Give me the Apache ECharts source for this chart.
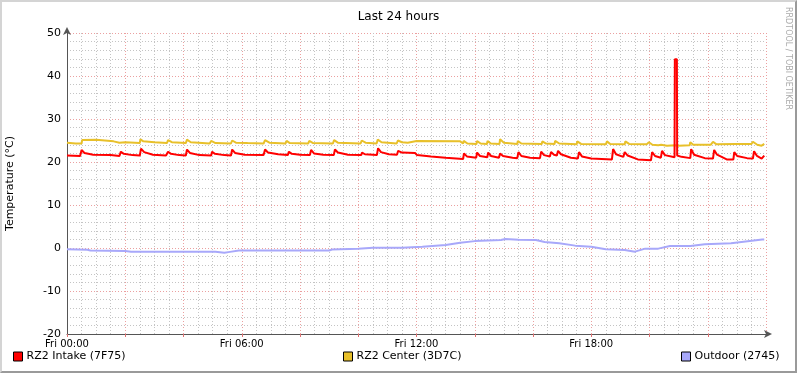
<!DOCTYPE html>
<html>
<head>
<meta charset="utf-8">
<script src="https://cdn.jsdelivr.net/npm/echarts@6/dist/echarts.min.js"></script>
<style>
  html, body { margin: 0; padding: 0; background: #fff; }
  #chart {
    width: 797px; height: 373px; box-sizing: border-box;
    border-left: 2px solid #d4d4d4; border-top: 2px solid #d4d4d4;
    border-right: 2px solid #9a9a9a; border-bottom: 2px solid #9a9a9a;
  }
</style>
</head>
<body>
<div id="chart"></div>
<script>
// hours since Fri 00:00, temperature in °C
const intake = [
  [0, 21.5], [0.45, 21.4], [0.5, 22.8], [0.6, 22.1], [0.9, 21.7], [1.5, 21.6], [1.8, 21.4],
  [1.85, 22.4], [1.95, 21.9], [2.25, 21.6], [2.5, 21.5], [2.54, 23.1], [2.65, 22.3], [2.95, 21.7],
  [3.4, 21.5], [3.47, 22.4], [3.57, 21.9], [3.85, 21.6], [4.08, 21.5], [4.12, 22.9], [4.22, 22.1],
  [4.55, 21.6], [4.95, 21.5], [4.98, 22.4], [5.08, 21.9], [5.4, 21.6], [5.63, 21.5], [5.67, 22.9],
  [5.77, 22.1], [6.1, 21.7], [6.75, 21.6], [6.8, 22.9], [6.9, 22.2], [7.25, 21.8], [7.58, 21.6],
  [7.62, 22.4], [7.72, 21.9], [8.0, 21.7], [8.34, 21.6], [8.38, 22.8], [8.48, 22.0], [8.8, 21.7],
  [9.16, 21.6], [9.2, 22.9], [9.3, 22.2], [9.65, 21.7], [10.1, 21.6], [10.13, 22.2], [10.23, 21.8],
  [10.64, 21.6], [10.68, 23.2], [10.78, 22.3], [11.05, 21.8], [11.33, 21.7], [11.37, 22.6],
  [11.5, 22.2], [11.95, 22.1], [12.02, 21.6], [12.5, 21.3], [13.0, 21.0], [13.6, 20.7],
  [13.63, 22.0], [13.73, 21.3], [14.05, 21.0], [14.08, 22.2], [14.18, 21.4], [14.43, 21.1],
  [14.46, 22.2], [14.56, 21.4], [14.83, 21.0], [14.87, 22.0], [14.97, 21.4], [15.3, 21.0],
  [15.46, 20.9], [15.5, 22.3], [15.6, 21.4], [15.9, 21.0], [16.24, 20.9], [16.28, 22.4],
  [16.38, 21.6], [16.58, 21.3], [16.62, 22.3], [16.72, 21.7], [16.82, 21.5], [16.86, 22.6],
  [16.96, 21.8], [17.3, 21.0], [17.54, 20.8], [17.58, 22.3], [17.68, 21.3], [18.0, 20.8],
  [18.71, 20.6], [18.75, 23.0], [18.85, 21.8], [19.1, 21.2], [19.15, 22.3], [19.25, 21.5],
  [19.6, 20.6], [20.05, 20.4], [20.09, 22.3], [20.19, 21.4], [20.39, 21.0], [20.43, 22.6],
  [20.53, 21.6], [20.86, 21.1], [20.87, 43.9], [20.94, 43.9], [20.95, 21.5], [21.1, 21.2],
  [21.4, 20.9], [21.43, 23.0], [21.53, 21.7], [21.9, 20.9], [22.18, 20.8], [22.22, 22.8],
  [22.32, 21.7], [22.65, 20.6], [22.88, 20.6], [22.91, 22.3], [23.01, 21.4], [23.35, 20.9],
  [23.55, 20.8], [23.59, 22.5], [23.69, 21.4], [23.85, 20.8], [23.94, 21.5]
];
const center = [
  [0, 24.5], [0.3, 24.3], [0.5, 24.3], [0.52, 25.1], [1.0, 25.2], [1.3, 25.0], [1.6, 24.8],
  [1.8, 24.5], [1.85, 24.9], [2.0, 24.6], [2.5, 24.4], [2.52, 25.3], [2.62, 24.8], [3.0, 24.6],
  [3.43, 24.4], [3.47, 25.1], [3.6, 24.6], [4.08, 24.4], [4.12, 25.2], [4.25, 24.6], [4.9, 24.3],
  [4.95, 24.9], [5.1, 24.4], [5.63, 24.3], [5.67, 25.0], [5.8, 24.5], [6.2, 24.4], [6.75, 24.3],
  [6.8, 25.1], [6.95, 24.5], [7.5, 24.3], [7.54, 24.9], [7.65, 24.4], [8.28, 24.3], [8.32, 24.9],
  [8.45, 24.4], [9.13, 24.3], [9.17, 25.1], [9.3, 24.5], [10.08, 24.3], [10.12, 25.0],
  [10.25, 24.5], [10.63, 24.3], [10.67, 25.2], [10.8, 24.6], [11.32, 24.3], [11.36, 25.0],
  [11.5, 24.6], [11.7, 24.5], [12.0, 24.9], [13.5, 24.8], [13.6, 24.3], [13.62, 24.9],
  [13.75, 24.3], [14.06, 24.2], [14.08, 24.9], [14.2, 24.3], [14.42, 24.2], [14.44, 24.9],
  [14.55, 24.3], [14.85, 24.2], [14.87, 25.3], [15.0, 24.5], [15.46, 24.2], [15.48, 24.9],
  [15.6, 24.3], [16.3, 24.2], [16.32, 24.8], [16.45, 24.3], [16.74, 24.2], [16.76, 24.9],
  [16.9, 24.3], [17.5, 24.1], [17.52, 24.8], [17.65, 24.2], [18.5, 24.1], [18.54, 24.8],
  [18.65, 24.2], [19.15, 24.1], [19.17, 24.8], [19.3, 24.2], [19.9, 24.1], [19.98, 24.6],
  [20.1, 24.0], [20.3, 23.9], [20.4, 24.0], [20.6, 23.8], [20.88, 23.9], [20.9, 24.3],
  [21.0, 23.8], [21.38, 23.9], [21.4, 24.6], [21.5, 24.0], [22.1, 24.0], [22.18, 24.7],
  [22.3, 24.1], [22.95, 24.2], [23.0, 24.5], [23.5, 24.2], [23.55, 24.7], [23.7, 24.0],
  [23.85, 23.8], [23.94, 24.2]
];
const outdoor = [
  [0, -0.3], [0.7, -0.4], [0.8, -0.6], [2.0, -0.7], [2.2, -0.85], [5.1, -0.9], [5.4, -1.1],
  [5.6, -0.9], [5.9, -0.6], [9.0, -0.6], [9.1, -0.35], [10.0, -0.2], [10.5, 0.05], [11.5, 0.05],
  [12.2, 0.3], [13.0, 0.7], [13.5, 1.2], [14.0, 1.6], [14.9, 1.85], [15.05, 2.1], [15.5, 1.9],
  [16.1, 1.85], [16.4, 1.4], [16.9, 1.1], [17.45, 0.55], [18.0, 0.3], [18.5, -0.3], [19.15, -0.45],
  [19.5, -0.85], [19.85, -0.15], [20.3, -0.15], [20.7, 0.45], [21.4, 0.45], [21.9, 0.85],
  [22.8, 1.1], [23.3, 1.5], [23.87, 1.95], [23.94, 1.95]
];
const hourLabels = ['Fri 00:00', 'Fri 06:00', 'Fri 12:00', 'Fri 18:00'];
const seriesNames = ['RZ2 Intake (7F75)', 'RZ2 Center (3D7C)', 'Outdoor (2745)'];
const colors = ['#ff0000', '#e8c02a', '#a8a8fa'];

const font = 'DejaVu Sans';
const chart = echarts.init(document.getElementById('chart'));

chart.setOption({
  animation: false,
  backgroundColor: '#ffffff',
  title: {
    text: 'Last 24 hours',
    left: 'center',
    top: 4,
    textStyle: { fontFamily: font, fontSize: 12, fontWeight: 'normal', color: '#000' }
  },
  grid: { left: 65, top: 31, right: 29, bottom: 37, outerBoundsMode: 'none', containLabel: false },
  legend: seriesNames.map((name, i) => ({
    data: [name],
    left: [11, 341, 679][i],
    top: 349,
    icon: 'rect',
    itemWidth: 9,
    itemHeight: 9,
    itemGap: 4,
    padding: 0,
    selectedMode: false,
    textStyle: { fontFamily: font, fontSize: 11, color: '#000', padding: [0, 0, 0, -1] },
    itemStyle: { borderColor: '#000', borderWidth: 1 }
  })),
  xAxis: {
    type: 'value',
    min: 0,
    max: 24,
    interval: 2,
    axisLine: {
      onZero: false,
      lineStyle: { color: '#555', width: 1 },
      symbol: ['none', 'arrow'],
      symbolSize: [6, 8],
      symbolOffset: [0, 6]
    },
    axisTick: { show: true, length: 3, lineStyle: { color: '#e07070' } },
    minorTick: { show: false, splitNumber: 4 },
    axisLabel: {
      fontFamily: font, fontSize: 10, color: '#000', margin: 5,
      showMaxLabel: false,
      formatter: v => (v % 6 === 0 && v < 24) ? hourLabels[v / 6] : ''
    },
    splitLine: { show: true, lineStyle: { color: '#eba0a0', type: [1, 2] } },
    minorSplitLine: { show: true, lineStyle: { color: '#c4c4c4', type: [1, 2] } }
  },
  yAxis: {
    type: 'value',
    min: -20,
    max: 50,
    interval: 10,
    name: 'Temperature (°C)',
    nameLocation: 'middle',
    nameRotate: 90,
    nameGap: 51,
    nameTextStyle: { fontFamily: font, fontSize: 11, color: '#000' },
    axisLine: {
      show: true,
      lineStyle: { color: '#555', width: 1 },
      symbol: ['none', 'arrow'],
      symbolSize: [6, 8],
      symbolOffset: [0, 6]
    },
    axisTick: { show: false },
    minorTick: { show: false, splitNumber: 5 },
    axisLabel: { fontFamily: font, fontSize: 11, color: '#000', margin: 6 },
    splitLine: { show: true, lineStyle: { color: '#eba0a0', type: [1, 2] } },
    minorSplitLine: { show: true, lineStyle: { color: '#c4c4c4', type: [1, 2] } }
  },
  series: [intake, center, outdoor].map((d, i) => ({
    name: seriesNames[i],
    type: 'line',
    data: d,
    showSymbol: false,
    symbol: 'none',
    color: colors[i],
    lineStyle: { color: colors[i], width: 2 },
    z: 3 - i
  })),
  graphic: [{
    type: 'text',
    x: 786,
    y: 5,
    rotation: -Math.PI / 2,
    style: {
      text: 'RRDTOOL / TOBI OETIKER',
      fontFamily: font,
      fontSize: 8,
      fill: '#aaaaaa',
      textAlign: 'left',
      textVerticalAlign: 'middle'
    }
  }]
});
</script>
</body>
</html>
